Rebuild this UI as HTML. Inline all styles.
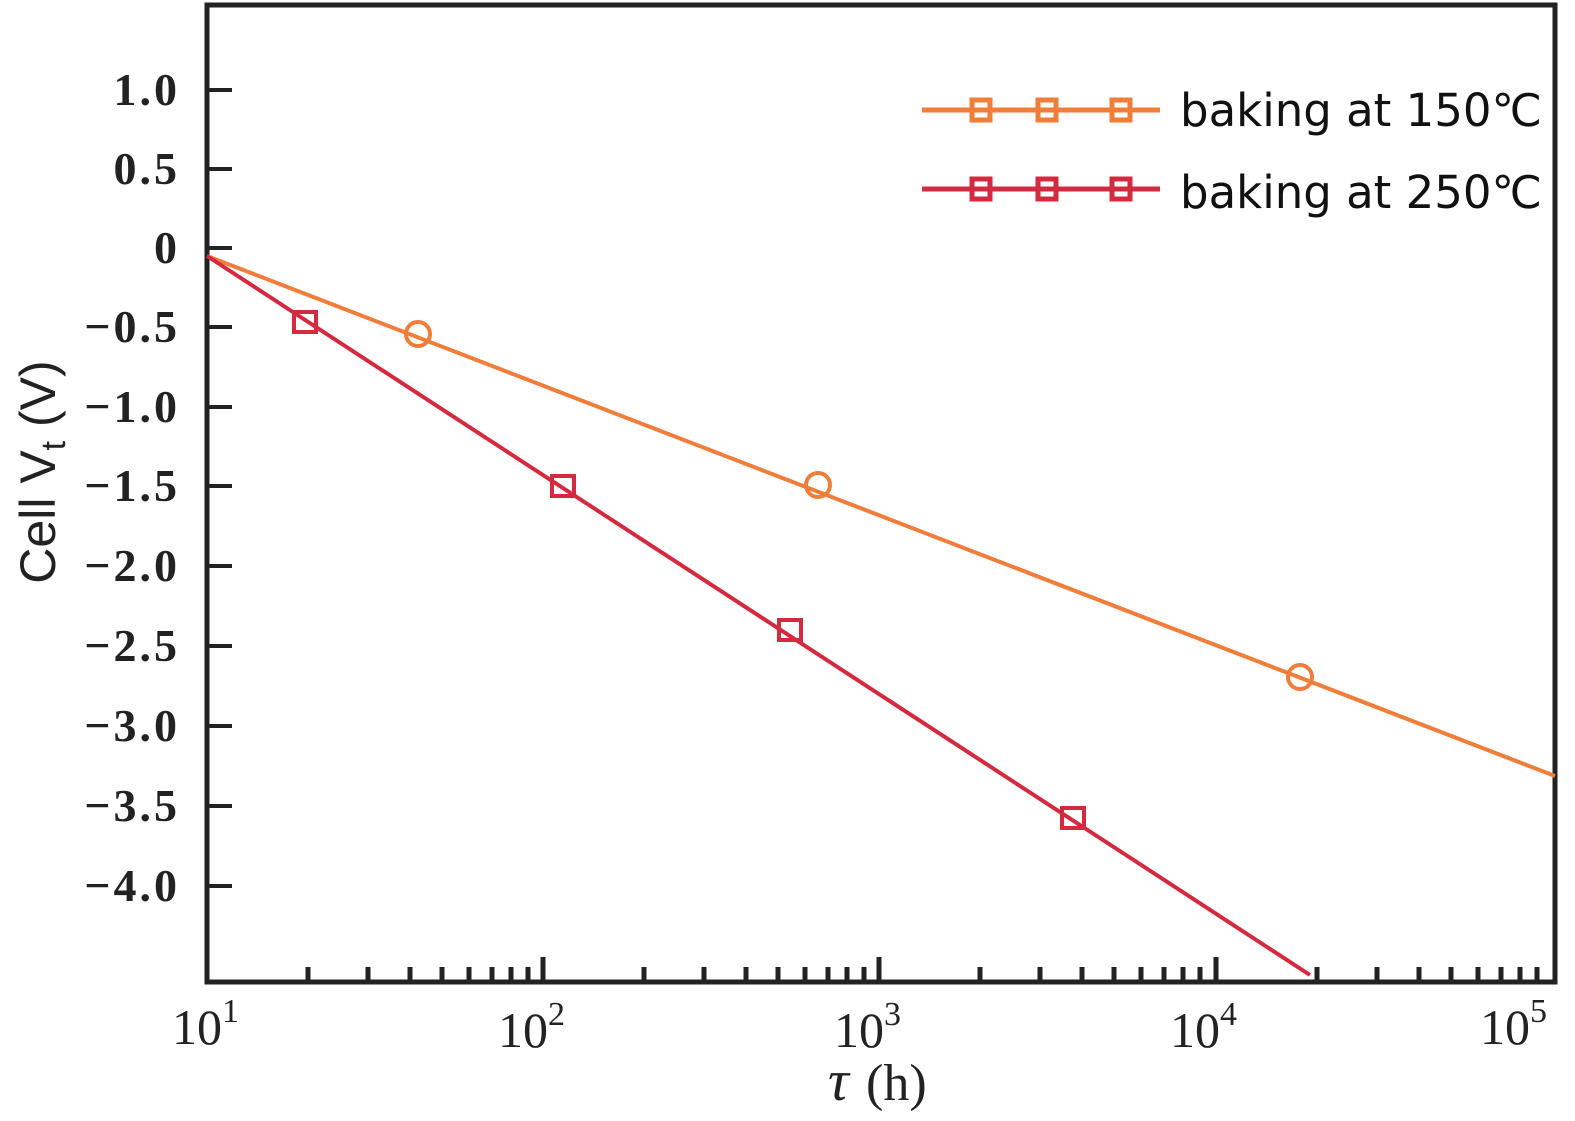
<!DOCTYPE html>
<html><head><style>body{margin:0;background:#fff}</style></head><body>
<svg width="1575" height="1116" xmlns="http://www.w3.org/2000/svg">
<rect x="207" y="5" width="1348" height="977" fill="none" stroke="#222" stroke-width="5"/>
<g stroke="#222" stroke-width="4">
<line x1="207" y1="90" x2="232" y2="90"/><line x1="207" y1="169" x2="232" y2="169"/><line x1="207" y1="248" x2="232" y2="248"/><line x1="207" y1="327" x2="232" y2="327"/><line x1="207" y1="407" x2="232" y2="407"/><line x1="207" y1="486" x2="232" y2="486"/><line x1="207" y1="566" x2="232" y2="566"/><line x1="207" y1="646" x2="232" y2="646"/><line x1="207" y1="726" x2="232" y2="726"/><line x1="207" y1="806" x2="232" y2="806"/><line x1="207" y1="886" x2="232" y2="886"/>
</g>
<g font-family="Liberation Serif, serif" font-size="46" font-weight="bold" fill="#222" text-anchor="end" letter-spacing="3">
<text x="180" y="105">1.0</text><text x="180" y="184">0.5</text><text x="180" y="263">0</text><text x="180" y="342">−0.5</text><text x="180" y="422">−1.0</text><text x="180" y="501">−1.5</text><text x="180" y="581">−2.0</text><text x="180" y="661">−2.5</text><text x="180" y="741">−3.0</text><text x="180" y="821">−3.5</text><text x="180" y="901">−4.0</text>
</g>
<g font-family="Liberation Serif, serif" font-size="50" fill="#222">
<text x="172" y="1044">10<tspan font-size="34" dy="-22">1</tspan></text>
<text x="498" y="1047">10<tspan font-size="34" dy="-22">2</tspan></text>
<text x="834" y="1047">10<tspan font-size="34" dy="-22">3</tspan></text>
<text x="1170" y="1047">10<tspan font-size="34" dy="-22">4</tspan></text>
<text x="1480" y="1044">10<tspan font-size="34" dy="-22">5</tspan></text>
<text x="828" y="1100" font-style="italic" font-size="58">τ</text><text x="866" y="1100" font-size="52">(h)</text>
</g>
<text transform="translate(55,472) rotate(-90)" text-anchor="middle" font-family="Liberation Sans, sans-serif" font-size="50" fill="#222">Cell V<tspan font-size="34" dy="10">t</tspan><tspan dy="-10"> (V)</tspan></text>
<line x1="207" y1="256" x2="1555" y2="776" stroke="#f07d3a" stroke-width="4"/>
<line x1="207" y1="256" x2="1310" y2="975" stroke="#d42a40" stroke-width="4"/>
<g fill="none" stroke="#f07d3a" stroke-width="4">
<circle cx="418" cy="334" r="12"/><circle cx="818" cy="485" r="12"/><circle cx="1300" cy="677" r="12"/>
</g>
<g fill="none" stroke="#d42a40" stroke-width="4">
<rect x="294" y="312" width="22" height="20"/><rect x="552" y="476" width="22" height="20"/><rect x="779" y="620" width="22" height="20"/><rect x="1062" y="808" width="22" height="20"/>
</g>
<line x1="922" y1="110" x2="1160" y2="110" stroke="#f07d3a" stroke-width="5"/>
<line x1="922" y1="189" x2="1160" y2="189" stroke="#d42a40" stroke-width="5"/>
<g fill="none" stroke="#f07d3a" stroke-width="5"><rect x="972" y="100" width="18" height="20"/><rect x="1038" y="100" width="18" height="20"/><rect x="1112" y="100" width="18" height="20"/></g>
<g fill="none" stroke="#d42a40" stroke-width="5"><rect x="972" y="179" width="18" height="20"/><rect x="1038" y="179" width="18" height="20"/><rect x="1112" y="179" width="18" height="20"/></g>
<g font-family="DejaVu Sans, sans-serif" font-size="45" fill="#111">
<text x="1180" y="126">baking at 150℃</text>
<text x="1180" y="208">baking at 250℃</text>
</g>
<g stroke="#222" stroke-width="5">
<line x1="543" y1="982" x2="543" y2="957"/><line x1="879" y1="982" x2="879" y2="957"/><line x1="1216" y1="982" x2="1216" y2="957"/>
</g>
<g stroke="#222" stroke-width="5">
<line x1="308" y1="982" x2="308" y2="967"/><line x1="368" y1="982" x2="368" y2="967"/><line x1="410" y1="982" x2="410" y2="967"/><line x1="442" y1="982" x2="442" y2="967"/><line x1="469" y1="982" x2="469" y2="967"/><line x1="492" y1="982" x2="492" y2="967"/><line x1="511" y1="982" x2="511" y2="967"/><line x1="528" y1="982" x2="528" y2="967"/>
<line x1="644" y1="982" x2="644" y2="967"/><line x1="704" y1="982" x2="704" y2="967"/><line x1="746" y1="982" x2="746" y2="967"/><line x1="778" y1="982" x2="778" y2="967"/><line x1="805" y1="982" x2="805" y2="967"/><line x1="828" y1="982" x2="828" y2="967"/><line x1="847" y1="982" x2="847" y2="967"/><line x1="864" y1="982" x2="864" y2="967"/>
<line x1="980" y1="982" x2="980" y2="967"/><line x1="1040" y1="982" x2="1040" y2="967"/><line x1="1082" y1="982" x2="1082" y2="967"/><line x1="1114" y1="982" x2="1114" y2="967"/><line x1="1141" y1="982" x2="1141" y2="967"/><line x1="1164" y1="982" x2="1164" y2="967"/><line x1="1183" y1="982" x2="1183" y2="967"/><line x1="1200" y1="982" x2="1200" y2="967"/>
<line x1="1317" y1="982" x2="1317" y2="967"/><line x1="1377" y1="982" x2="1377" y2="967"/><line x1="1419" y1="982" x2="1419" y2="967"/><line x1="1451" y1="982" x2="1451" y2="967"/><line x1="1478" y1="982" x2="1478" y2="967"/><line x1="1501" y1="982" x2="1501" y2="967"/><line x1="1520" y1="982" x2="1520" y2="967"/><line x1="1537" y1="982" x2="1537" y2="967"/>
</g>
</svg>
</body></html>
